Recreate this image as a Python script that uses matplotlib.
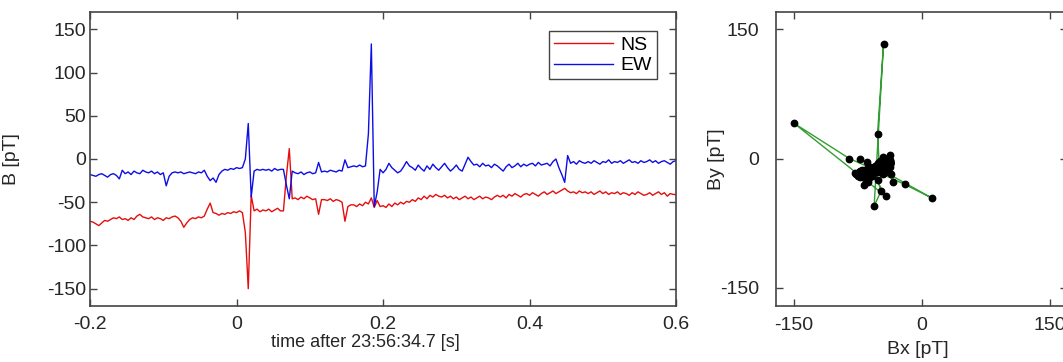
import numpy as np
import matplotlib
matplotlib.use('Agg')
import matplotlib.pyplot as plt

plt.rcParams['font.family'] = ['Liberation Sans', 'DejaVu Sans']
plt.rcParams['axes.unicode_minus'] = False

# sample times [s], 4 ms spacing
t = np.round(np.arange(201) * 0.004 - 0.2, 3)

# north-south component [pT]
ns = [-72, -73, -75, -77, -74, -71, -72, -70, -68, -69,
      -67, -70, -69, -71, -68, -70, -66, -64, -67, -68,
      -69, -67, -70, -68, -69, -71, -68, -69, -67, -66,
      -68, -72, -79, -74, -70, -68, -69, -67, -68, -66,
      -58, -51, -62, -63, -65, -63, -64, -62, -63, -61,
      -62, -60, -62, -85, -150, -42, -60, -58, -61, -59,
      -60, -58, -61, -59, -57, -60, -60, -20, 12, -46,
      -45, -47, -44, -46, -43, -45, -47, -46, -64, -47,
      -47, -48, -46, -49, -47, -48, -50, -72, -55, -53,
      -53, -55, -52, -54, -50, -52, -45, -56, -48, -55,
      -54, -56, -52, -55, -51, -53, -50, -52, -49, -50,
      -47, -49, -45, -47, -43, -46, -42, -44, -41, -43,
      -44, -42, -45, -43, -46, -44, -47, -45, -43, -46,
      -44, -47, -45, -43, -46, -44, -45, -47, -44, -42,
      -44, -42, -45, -41, -43, -40, -42, -44, -41, -40,
      -42, -39, -41, -43, -40, -38, -41, -39, -37, -40,
      -38, -36, -34, -37, -39, -38, -40, -37, -39, -38,
      -40, -38, -41, -39, -37, -40, -38, -41, -39, -40,
      -38, -41, -39, -40, -42, -39, -41, -38, -40, -42,
      -41, -39, -42, -40, -38, -41, -39, -43, -40, -41,
      -41]

# east-west component [pT]
ew = [-18, -19, -20, -18, -17, -19, -21, -18, -17, -19,
      -23, -13, -17, -15, -18, -14, -16, -17, -13, -15,
      -16, -14, -17, -15, -18, -16, -31, -20, -16, -15,
      -16, -15, -17, -16, -15, -16, -17, -15, -16, -13,
      -20, -25, -22, -27, -18, -14, -12, -13, -11, -12,
      -10, -11, -10, 0, 41, -44, -14, -12, -13, -12,
      -13, -12, -14, -11, -13, -12, -12, -30, -46, -14,
      -16, -17, -15, -18, -16, -15, -17, -16, -4, -15,
      -14, -15, -13, -14, -15, -13, -14, -1, -10, -9,
      -8, -9, -7, -9, -8, 29, 133, -55, -38, -12,
      -16, -12, -5, -10, -13, -16, -14, -9, -3, -8,
      -10, -13, -7, -11, -14, -8, -12, -6, -10, -13,
      -9, -5, -10, -14, -11, -7, -12, -14, -6, 2,
      -3, -7, -6, -9, -5, -8, -7, -10, -6, -8,
      -11, -14, -9, -6, -10, -8, -5, -9, -6, -8,
      -6, -5, -8, -4, -7, -6, -5, -8, -3, 0,
      -10, -18, -27, 4, -5, -3, -6, -2, -4, -5,
      -3, -5, -2, -4, -6, -3, -4, -1, -5, -3,
      -4, -2, -5, -3, -1, -4, -3, -5, -2, -4,
      -3, -1, -4, -2, -5, -3, -2, -4, -6, -3,
      -2]

xticks_t = [-0.2, 0, 0.2, 0.4, 0.6]
xtick_labels = ['-0.2', '0', '0.2', '0.4', '0.6']
yticks_b = [-150, -100, -50, 0, 50, 100, 150]
hodo_ticks = [-150, 0, 150]

spine_col = '#444444'
txt_col = '#262626'
fs_tick = 14
fs_lab = 13

fig = plt.figure(figsize=(10.63, 3.62), dpi=100)

ax1 = fig.add_axes([0.0847, 0.1547, 0.5513, 0.8122])
ax1.plot(t, ns, color=(0.9, 0.05, 0.05), lw=1.0, label='NS')
ax1.plot(t, ew, color=(0.05, 0.05, 0.9), lw=1.0, label='EW')
ax1.set_xlim(-0.2, 0.6)
ax1.set_ylim(-170, 170)
ax1.set_xticks(xticks_t)
ax1.set_xticklabels(xtick_labels)
ax1.set_yticks(yticks_b)
ax1.tick_params(direction='in', top=True, right=True, length=5, width=1,
                colors=spine_col, labelcolor=txt_col, labelsize=fs_tick)
ax1.tick_params(axis='x', pad=7)
ax1.tick_params(axis='y', pad=3)
ax1.set_xlabel('time after 23:56:34.7 [s]', fontsize=fs_lab, color=txt_col)
ax1.xaxis.set_label_coords(0.469, -0.095)
ax1.set_ylabel('B [pT]', fontsize=fs_tick, color=txt_col)
ax1.yaxis.set_label_coords(-0.119, 0.5)
leg = ax1.legend(loc='upper right', fontsize=fs_tick, fancybox=False, framealpha=1,
                 edgecolor=spine_col, handlelength=3.0, borderaxespad=1.0,
                 borderpad=0.25, labelspacing=0.15, handletextpad=0.4)
leg.get_frame().set_linewidth(1.0)

ax2 = fig.add_axes([0.730, 0.1547, 0.2738, 0.8122])
ax2.plot(ns, ew, '-', color=(0.2, 0.62, 0.2), lw=1.0, zorder=1)
ax2.plot(ns, ew, 'o', color='k', ms=4.6, zorder=2)
ax2.set_xlim(-171, 170)
ax2.set_ylim(-171, 170)
ax2.set_xticks(hodo_ticks)
ax2.set_yticks(hodo_ticks)
ax2.tick_params(direction='in', top=True, right=True, length=5, width=1,
                colors=spine_col, labelcolor=txt_col, labelsize=fs_tick)
ax2.tick_params(axis='x', pad=8)
ax2.tick_params(axis='y', pad=12)
ax2.set_xlabel('Bx [pT]', fontsize=fs_tick, color=txt_col)
ax2.xaxis.set_label_coords(0.488, -0.118)
ax2.set_ylabel('By [pT]', fontsize=fs_tick, color=txt_col)
ax2.yaxis.set_label_coords(-0.175, 0.5)

for ax in (ax1, ax2):
    for s in ax.spines.values():
        s.set_color(spine_col)
        s.set_linewidth(1.2)

fig.savefig('out.png', dpi=100)
